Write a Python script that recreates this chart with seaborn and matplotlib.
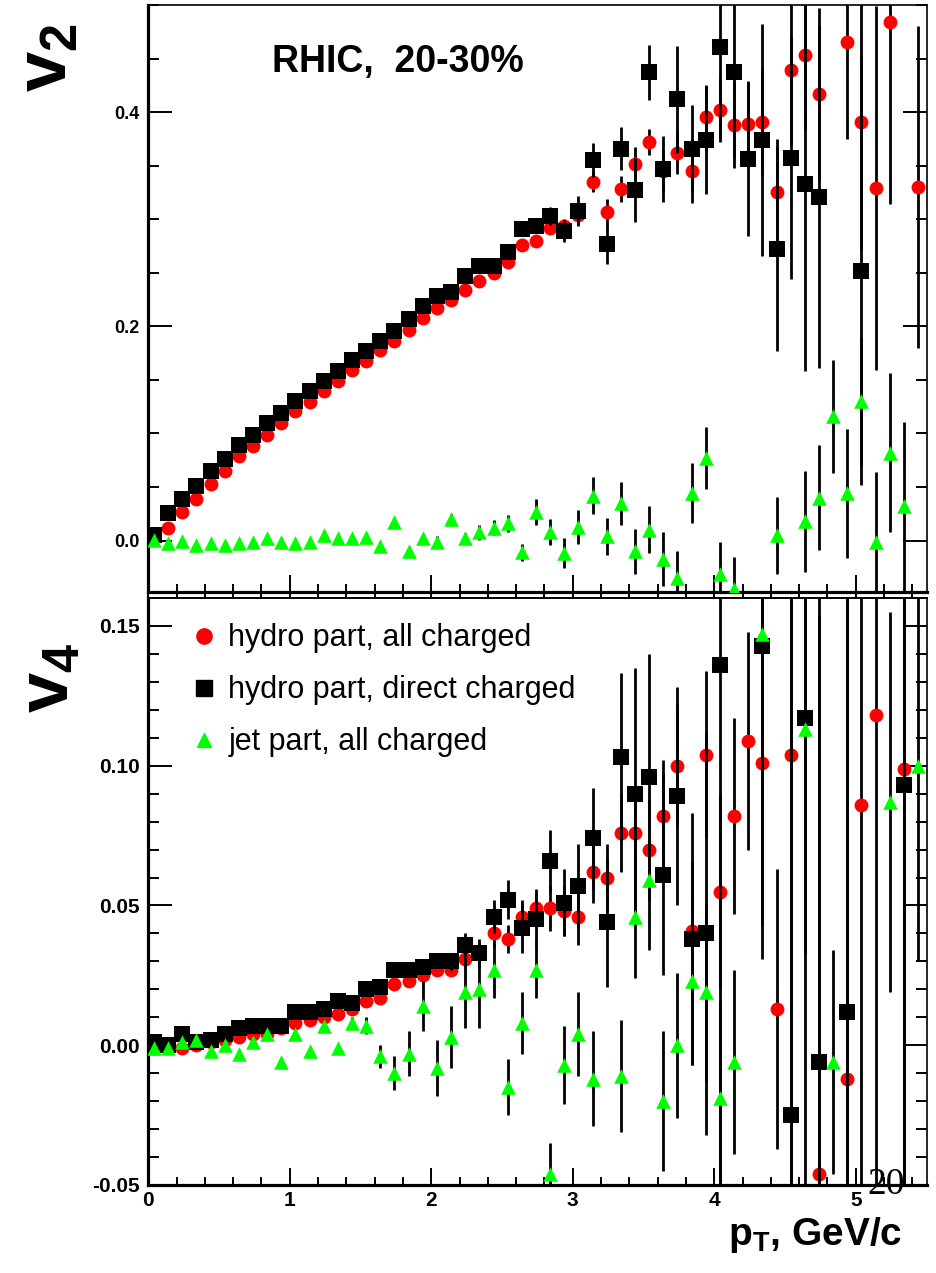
import numpy as np
import pandas as pd
import matplotlib
matplotlib.use("Agg")
import matplotlib.pyplot as plt
import seaborn as sns
from matplotlib.lines import Line2D
from matplotlib.ticker import MultipleLocator

# ---------------- data ----------------
pt = [0.04, 0.14, 0.24, 0.34, 0.44, 0.54, 0.64, 0.74, 0.84, 0.94,
      1.04, 1.14, 1.24, 1.34, 1.44, 1.54, 1.64, 1.74, 1.84, 1.94,
      2.04, 2.14, 2.24, 2.34, 2.44, 2.54, 2.64, 2.74, 2.84, 2.94,
      3.04, 3.14, 3.24, 3.34, 3.44, 3.54, 3.64, 3.74, 3.84, 3.94,
      4.04, 4.14, 4.24, 4.34, 4.44, 4.54, 4.64, 4.74, 4.84, 4.94,
      5.04, 5.14, 5.24, 5.34, 5.44]

v2_red = [0.003, 0.012, 0.027, 0.039, 0.053, 0.065, 0.079, 0.088, 0.099, 0.110,
          0.121, 0.129, 0.140, 0.149, 0.159, 0.168, 0.178, 0.186, 0.197, 0.208,
          0.217, 0.225, 0.234, 0.242, 0.250, 0.260, 0.276, 0.280, 0.292, 0.294,
          0.304, 0.335, 0.307, 0.328, 0.352, 0.372, 0.345, 0.362, 0.345, 0.395,
          0.402, 0.388, 0.389, 0.391, 0.325, 0.439, 0.453, 0.417, None, 0.465,
          0.391, 0.329, 0.484, None, 0.330]
e2_red = [0.002, 0.002, 0.002, 0.002, 0.002, 0.002, 0.002, 0.002, 0.002, 0.002,
          0.002, 0.002, 0.002, 0.002, 0.002, 0.002, 0.002, 0.002, 0.003, 0.003,
          0.003, 0.003, 0.003, 0.004, 0.004, 0.004, 0.005, 0.005, 0.006, 0.006,
          0.007, 0.010, 0.012, 0.012, 0.015, 0.012, 0.020, 0.020, 0.030, 0.030,
          0.030, 0.040, 0.040, 0.050, 0.050, 0.070, 0.070, 0.080, None, 0.090,
          0.120, 0.170, 0.170, None, 0.150]

v2_black = [0.005, 0.026, 0.039, 0.051, 0.065, 0.076, 0.089, 0.099, 0.110, 0.119,
            0.130, 0.140, 0.149, 0.158, 0.169, 0.177, 0.186, 0.196, 0.207, 0.219,
            0.228, 0.232, 0.247, 0.256, 0.256, 0.269, 0.291, 0.294, 0.303, 0.289,
            0.308, 0.355, 0.277, 0.366, 0.327, 0.437, 0.347, 0.412, 0.366, 0.374,
            0.461, 0.437, 0.356, 0.374, 0.272, 0.357, 0.333, 0.321, None, None,
            0.252, None, None, None, None]
e2_black = [0.002, 0.002, 0.002, 0.002, 0.002, 0.002, 0.002, 0.002, 0.002, 0.002,
            0.002, 0.002, 0.002, 0.002, 0.002, 0.002, 0.003, 0.003, 0.003, 0.003,
            0.003, 0.003, 0.004, 0.004, 0.004, 0.005, 0.005, 0.005, 0.008, 0.010,
            0.014, 0.016, 0.019, 0.020, 0.030, 0.026, 0.031, 0.050, 0.041, 0.050,
            0.085, 0.080, 0.072, 0.108, 0.095, 0.113, 0.175, 0.160, None, None,
            0.200, None, None, None, None]

v2_green = [0.001, -0.002, 0.000, -0.004, -0.002, -0.004, -0.002, -0.001, 0.002, -0.001,
            -0.002, -0.001, 0.005, 0.002, 0.002, 0.003, -0.005, 0.017, -0.010, 0.002,
            -0.001, 0.020, 0.002, 0.008, 0.012, 0.016, -0.011, 0.027, 0.008, -0.012,
            0.013, 0.042, 0.004, 0.035, -0.010, 0.010, -0.017, -0.035, 0.044, 0.077,
            -0.031, -0.045, None, None, 0.005, None, 0.018, 0.040, 0.116, 0.044,
            0.130, -0.001, 0.082, 0.032, None]
e2_green = [0.001, 0.001, 0.001, 0.001, 0.001, 0.001, 0.001, 0.001, 0.001, 0.001,
            0.001, 0.001, 0.002, 0.002, 0.002, 0.002, 0.002, 0.003, 0.004, 0.004,
            0.005, 0.005, 0.005, 0.007, 0.007, 0.008, 0.008, 0.012, 0.012, 0.014,
            0.016, 0.017, 0.017, 0.020, 0.021, 0.022, 0.025, 0.025, 0.028, 0.029,
            0.030, 0.030, None, None, 0.036, None, 0.047, 0.049, 0.053, 0.060,
            0.060, 0.065, 0.074, 0.079, None]

v4_red = [-0.001, 0.000, -0.001, 0.000, 0.001, 0.002, 0.003, 0.004, 0.004, 0.006,
          0.008, 0.009, 0.010, 0.011, 0.013, 0.016, 0.017, 0.022, 0.023, 0.025,
          0.027, 0.027, 0.031, 0.033, 0.040, 0.038, 0.046, 0.049, 0.049, 0.048,
          0.046, 0.062, 0.060, 0.076, 0.076, 0.070, 0.082, 0.100, 0.041, 0.104,
          0.055, 0.082, 0.109, 0.101, 0.013, 0.104, None, -0.046, None, -0.012,
          0.086, 0.118, None, 0.099, None]
e4_red = [0.001, 0.001, 0.001, 0.001, 0.001, 0.001, 0.001, 0.001, 0.001, 0.001,
          0.001, 0.001, 0.001, 0.001, 0.001, 0.001, 0.001, 0.001, 0.001, 0.001,
          0.001, 0.002, 0.003, 0.004, 0.005, 0.005, 0.006, 0.007, 0.008, 0.009,
          0.010, 0.011, 0.012, 0.014, 0.016, 0.018, 0.020, 0.022, 0.025, 0.030,
          0.035, 0.035, 0.039, 0.070, 0.050, 0.200, None, 0.200, None, 0.200,
          0.200, 0.200, None, 0.200, None]

v4_black = [0.001, 0.000, 0.004, 0.001, 0.002, 0.004, 0.006, 0.007, 0.007, 0.007,
            0.012, 0.012, 0.013, 0.016, 0.015, 0.020, 0.021, 0.027, 0.027, 0.028,
            0.030, 0.030, 0.036, 0.033, 0.046, 0.052, 0.042, 0.045, 0.066, 0.051,
            0.057, 0.074, 0.044, 0.103, 0.090, 0.096, 0.061, 0.089, 0.038, 0.040,
            0.136, None, None, 0.143, None, -0.025, 0.117, -0.006, None, 0.012,
            None, None, None, 0.093, None]
e4_black = [0.001, 0.001, 0.001, 0.001, 0.001, 0.001, 0.001, 0.001, 0.001, 0.001,
            0.001, 0.001, 0.001, 0.001, 0.001, 0.001, 0.001, 0.001, 0.001, 0.002,
            0.002, 0.003, 0.004, 0.005, 0.006, 0.007, 0.009, 0.009, 0.011, 0.012,
            0.015, 0.018, 0.023, 0.030, 0.045, 0.044, 0.036, 0.039, 0.045, 0.072,
            0.200, None, None, 0.100, None, 0.200, 0.200, 0.200, None, 0.200,
            None, None, None, 0.200, None]

v4_green = [-0.001, -0.001, 0.001, 0.002, -0.002, 0.000, -0.003, 0.001, 0.004, -0.006,
            0.004, -0.002, 0.007, -0.001, 0.008, 0.007, -0.004, -0.010, -0.003, 0.014,
            -0.008, 0.003, 0.019, 0.020, 0.027, -0.015, 0.008, 0.027, -0.046, -0.007,
            0.004, -0.012, None, -0.011, 0.046, 0.059, -0.020, 0.000, 0.023, 0.019,
            -0.019, -0.006, None, 0.147, None, None, 0.113, None, -0.006, None,
            None, None, 0.087, None, 0.100]
e4_green = [0.001, 0.001, 0.001, 0.001, 0.001, 0.001, 0.001, 0.001, 0.001, 0.001,
            0.001, 0.001, 0.001, 0.001, 0.002, 0.003, 0.004, 0.006, 0.008, 0.009,
            0.010, 0.011, 0.013, 0.014, 0.010, 0.010, 0.011, 0.010, 0.011, 0.014,
            0.015, 0.017, None, 0.020, 0.022, 0.025, 0.025, 0.026, 0.030, 0.032,
            0.035, 0.033, None, 0.060, None, None, 0.080, None, 0.040, None,
            None, None, 0.068, None, 0.070]

series_labels = ["hydro part, all charged", "hydro part, direct charged", "jet part, all charged"]
x_ticks = [0, 1, 2, 3, 4, 5]
v2_ticks = [0.0, 0.2, 0.4]
v2_tick_labels = ["0.0", "0.2", "0.4"]
v4_ticks = [-0.05, 0.0, 0.05, 0.10, 0.15]
v4_tick_labels = ["-0.05", "0.00", "0.05", "0.10", "0.15"]

# ---------------- style ----------------
sns.set_theme(style="white")
plt.rcParams["font.family"] = ["Liberation Sans", "DejaVu Sans"]
plt.rcParams["mathtext.fontset"] = "custom"
plt.rcParams["mathtext.rm"] = "Liberation Sans"
plt.rcParams["mathtext.bf"] = "Liberation Sans:bold"
plt.rcParams["mathtext.it"] = "Liberation Sans:italic"
for key in ["text.color", "axes.labelcolor", "xtick.color", "ytick.color", "axes.edgecolor"]:
    plt.rcParams[key] = "black"

RED = "#ff0000"
BLACK = "#000000"
GREEN = "#00ff00"

W, H = 937, 1273
fig = plt.figure(figsize=(W / 100, H / 100), dpi=100)
fig.patch.set_facecolor("white")

left = 148.3 / W
width = (926.5 - 148.3) / W
ax1 = fig.add_axes([left, 1 - 592 / H, width, 587 / H])
ax2 = fig.add_axes([left, 1 - 1185 / H, width, 587 / H])


def draw(ax, y, e, color, marker, s, z):
    y = np.array(y, dtype=float)
    e = np.array(e, dtype=float)
    x = np.array(pt, dtype=float)
    ax.errorbar(x, y, yerr=e, fmt="none", ecolor="black", elinewidth=2.0,
                capsize=0, zorder=z)
    df = pd.DataFrame({"pt": x, "v": y}).dropna()
    sns.scatterplot(data=df, x="pt", y="v", ax=ax, color=color, marker=marker,
                    s=s, edgecolor=color, linewidth=0, zorder=z + 0.5, legend=False)


for ax, (yr, er), (yb, eb), (yg, eg) in [
    (ax1, (v2_red, e2_red), (v2_black, e2_black), (v2_green, e2_green)),
    (ax2, (v4_red, e4_red), (v4_black, e4_black), (v4_green, e4_green)),
]:
    draw(ax, yr, er, RED, "o", 100, 2)
    draw(ax, yb, eb, BLACK, "s", 125, 3)
    draw(ax, yg, eg, GREEN, "^", 110, 4)
    ax.set_xlabel("")
    ax.set_ylabel("")
    ax.set_xlim(0, 5.5)
    ax.set_facecolor("white")
    for side in ["left", "bottom"]:
        ax.spines[side].set_linewidth(2.3)
        ax.spines[side].set_color("black")
    for side in ["top", "right"]:
        ax.spines[side].set_linewidth(1.2)
        ax.spines[side].set_color("black")
    ax.set_xticks(x_ticks)
    ax.xaxis.set_minor_locator(MultipleLocator(0.2))
    ax.tick_params(axis="y", which="major", direction="in", length=17, width=1.4,
                   left=True, right=True, pad=6, colors="black")
    ax.tick_params(axis="y", which="minor", direction="in", length=8, width=1.4,
                   left=True, right=True, colors="black")
    ax.tick_params(axis="x", which="major", direction="in", length=12, width=1.4,
                   bottom=True, top=False, pad=4, colors="black")
    ax.tick_params(axis="x", which="minor", direction="in", length=6, width=1.4,
                   bottom=True, top=False, colors="black")

# top panel
ax1.set_ylim(-0.048, 0.5)
ax1.set_yticks(v2_ticks, v2_tick_labels, fontsize=13, fontweight="bold", color="black")
ax1.yaxis.set_minor_locator(MultipleLocator(0.05))
ax1.set_xticklabels([])

# bottom panel
ax2.set_ylim(-0.05, 0.16)
ax2.set_yticks(v4_ticks, v4_tick_labels, fontsize=15, fontweight="bold", color="black")
ax2.yaxis.set_minor_locator(MultipleLocator(0.01))
ax2.set_xticks(x_ticks, [str(t) for t in x_ticks], fontsize=15, fontweight="bold",
               color="black")

# small outward ticks on the top edge of the lower panel
sec = ax2.secondary_xaxis("top")
sec.set_xticks(x_ticks)
sec.xaxis.set_minor_locator(MultipleLocator(0.2))
sec.tick_params(axis="x", which="both", direction="out", length=5, width=1.4,
                labeltop=False, colors="black")
sec.spines["top"].set_linewidth(1.2)

# texts
fig.text(398 / W, 1 - 62 / H, "RHIC,  20-30%", fontsize=27, fontweight="bold",
         ha="center", va="center", color="black")
fig.text(48 / W, 1 - 58 / H, r"$\mathbf{v_2}$", fontsize=52, rotation=90,
         ha="center", va="center", color="black")
fig.text(50 / W, 1 - 678 / H, r"$\mathbf{v_4}$", fontsize=52, rotation=90,
         ha="center", va="center", color="black")
fig.text(902 / W, 1 - 1245 / H, r"$\mathbf{p_T}$, GeV/c", fontsize=28,
         fontweight="bold", ha="right", va="baseline", color="black")
fig.text(886 / W, 1 - 1185 / H, "20", fontsize=27, family="Liberation Serif",
         ha="center", va="center", color="black")

# legend
handles = [
    Line2D([], [], marker="o", linestyle="none", color=RED, markersize=11),
    Line2D([], [], marker="s", linestyle="none", color=BLACK, markersize=11),
    Line2D([], [], marker="^", linestyle="none", color=GREEN, markersize=10),
]
leg = ax2.legend(handles, series_labels, loc="upper left", bbox_to_anchor=(0.052, 0.957),
                 frameon=False, fontsize=22, handlelength=1.0, handletextpad=0.3,
                 labelspacing=0.72, borderpad=0, borderaxespad=0)
for t in leg.get_texts():
    t.set_color("black")

fig.savefig("out.png", dpi=100, facecolor="white")
